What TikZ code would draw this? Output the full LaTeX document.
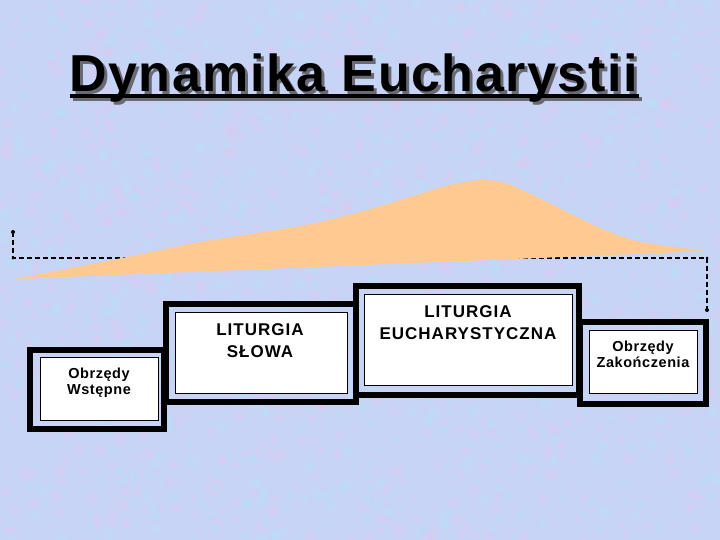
\documentclass[tikz,border=0pt]{standalone}
\usepackage{fontspec}
\setmainfont{Liberation Sans}
\newfontfamily\titlefont[LetterSpace=3.0]{Liberation Sans}
\newfontfamily\boxfont[LetterSpace=4.0]{Liberation Sans}
\newfontfamily\bigboxfont[LetterSpace=6.0]{Liberation Sans}
\definecolor{bgblue}{RGB}{199,212,246}
\definecolor{bgpink}{RGB}{222,202,240}
\definecolor{bgcyan}{RGB}{182,224,250}
\definecolor{peach}{RGB}{255,202,146}
\definecolor{shadowgray}{RGB}{105,105,115}
\tikzset{
  outerframe/.style={draw=black, line width=6pt},
  innerbox/.style={draw=black, line width=0.8pt, fill=white},
  boxtxt/.style={anchor=base, inner sep=0pt},
  pathline/.style={line width=2pt, dash pattern=on 5pt off 3pt},
  enddot/.style={circle, fill=black, inner sep=0pt, minimum size=4pt}
}
\begin{document}
\begin{tikzpicture}[x=1pt,y=-1pt]
\useasboundingbox (0,0) rectangle (720,540);
\fill[bgblue] (0,0) rectangle (720,540);
\pgfmathsetseed{7}
\foreach \i in {1,...,900} {
  \pgfmathsetmacro{\px}{720*rnd}
  \pgfmathsetmacro{\py}{540*rnd}
  \pgfmathsetmacro{\pr}{2+4*rnd}
  \fill[bgpink, opacity=0.35] (\px,\py) circle[radius=\pr];
}
\foreach \i in {1,...,900} {
  \pgfmathsetmacro{\px}{720*rnd}
  \pgfmathsetmacro{\py}{540*rnd}
  \pgfmathsetmacro{\pr}{2+4*rnd}
  \fill[bgcyan, opacity=0.35] (\px,\py) circle[radius=\pr];
}

% title (with its shadow in the same node)
\fill[shadowgray] (73,97) rectangle (642,101.5);
\node[boxtxt, font=\titlefont\bfseries\fontsize{52}{56}\selectfont] (title) at (353.5,92)
  {\makebox[0pt][l]{\hspace{3pt}\raisebox{-3pt}[0pt][0pt]{\color{shadowgray}Dynamika Eucharystii}}Dynamika Eucharystii};
\fill[black] (70,94) rectangle (639,98.3);

% dashed path
\coordinate (ps) at (13,232);
\coordinate (pc1) at (13,258);
\coordinate (pc2) at (707,258);
\coordinate (pe) at (707,310);
\draw[pathline] (ps) -- (pc1) -- (pc2) -- (pe);
\node[enddot] (dots) at (ps) {};
\node[enddot] (dote) at (pe) {};
\node[enddot, minimum size=3pt] (dotc1) at (pc1) {};
\node[enddot, minimum size=3pt] (dotc2) at (pc2) {};

% peach curve
\fill[peach] plot[smooth, tension=0.5] coordinates {(14,279) (122,258) (200,242) (300,226) (360,212) (400,200) (450,185) (482,180) (505,183) (533,195) (567,212) (600,228) (633,240) (667,246) (706,251)}
  -- (538,258) -- cycle;

% boxes
\draw[outerframe] (30,350) rectangle (164,429);
\draw[innerbox] (40,357) rectangle (158,420);
\draw[outerframe] (166,304) rectangle (356,402);
\draw[innerbox] (175,312) rectangle (347,393);
\draw[outerframe] (356,286) rectangle (579,395);
\draw[innerbox] (364,294) rectangle (572,385);
\draw[outerframe] (580,322) rectangle (706,404);
\draw[innerbox] (589,330) rectangle (697,393);

% texts
\tikzset{small/.style={font=\boxfont\bfseries\fontsize{14.5}{17}\selectfont},
         large/.style={font=\bigboxfont\bfseries\fontsize{17}{20}\selectfont}}
\node[boxtxt, small] (t1a) at (99,378) {Obrzędy};
\node[boxtxt, small] (t1b) at (99,394) {Wstępne};
\node[boxtxt, large] (t2a) at (260,335) {LITURGIA};
\node[boxtxt, large] (t2b) at (260,357) {SŁOWA};
\node[boxtxt, large] (t3a) at (468,317) {LITURGIA};
\node[boxtxt, large] (t3b) at (468,339) {EUCHARYSTYCZNA};
\node[boxtxt, small] (t4a) at (643,351) {Obrzędy};
\node[boxtxt, small] (t4b) at (643,367) {Zakończenia};
\end{tikzpicture}
\end{document}
